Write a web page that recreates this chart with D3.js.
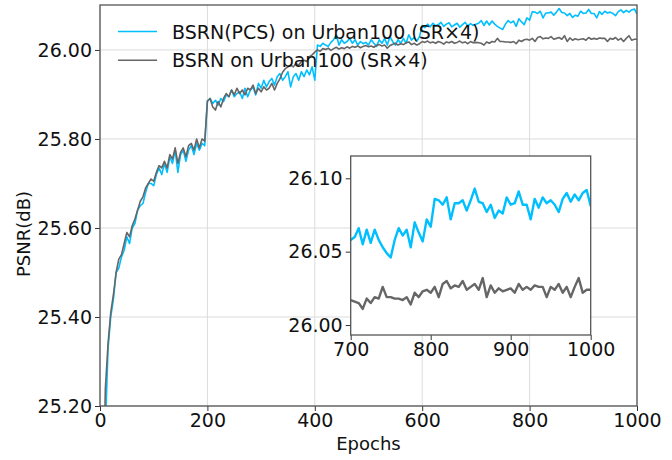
<!DOCTYPE html>
<html>
<head>
<meta charset="utf-8">
<script src="https://cdn.jsdelivr.net/npm/d3@7"></script>
<style>
  html, body { margin: 0; padding: 0; background: #fff; }
  svg { display: block; font-family: "DejaVu Sans", sans-serif; }
</style>
</head>
<body>
<svg id="chart" width="672" height="460"></svg>
<script>
// ---------- data ----------
const epochs = d3.range(5, 1001, 5);

const seriesNames = ["BSRN(PCS) on Urban100 (SR×4)", "BSRN on Urban100 (SR×4)"];
const seriesColors = ["#00bfff", "#666666"];

const psnrPCS = [
  24.90, 25.15, 25.33, 25.40, 25.44, 25.50, 25.51, 25.535, 25.55, 25.58,
  25.565, 25.60, 25.61, 25.64, 25.65, 25.655, 25.68, 25.70, 25.70, 25.695,
  25.72, 25.735, 25.72, 25.745, 25.725, 25.76, 25.745, 25.775, 25.725, 25.765,
  25.775, 25.75, 25.775, 25.785, 25.765, 25.79, 25.775, 25.79, 25.785, 25.885,
  25.891, 25.880, 25.887, 25.876, 25.891, 25.884, 25.899, 25.895, 25.910, 25.895,
  25.902, 25.906, 25.891, 25.914, 25.895, 25.910, 25.917, 25.899, 25.925, 25.914,
  25.932, 25.917, 25.929, 25.936, 25.921, 25.940, 25.947, 25.932, 25.940, 25.951,
  25.917, 25.940, 25.947, 25.932, 25.951, 25.940, 25.955, 25.944, 25.962, 25.932,
  26.011, 26.008, 26.015, 26.011, 26.008, 26.017, 26.023, 26.034, 26.011, 26.023,
  26.015, 26.019, 26.026, 26.015, 26.023, 26.011, 26.019, 26.014, 26.017, 26.011,
  26.023, 26.015, 26.008, 26.023, 26.015, 26.026, 26.011, 26.030, 26.019, 26.011,
  26.023, 26.015, 26.026, 26.015, 26.034, 26.022, 26.028, 26.020, 26.030, 26.055,
  26.050, 26.058, 26.052, 26.060, 26.054, 26.057, 26.062, 26.053, 26.058, 26.061,
  26.052, 26.056, 26.060, 26.051, 26.057, 26.062, 26.054, 26.059, 26.055, 26.058,
  26.060, 26.066, 26.055, 26.065, 26.056, 26.065, 26.058, 26.053, 26.049, 26.046,
  26.058, 26.066, 26.061, 26.065, 26.053, 26.070, 26.063, 26.057, 26.072, 26.067,
  26.086, 26.085, 26.082, 26.087, 26.072, 26.083, 26.083, 26.085, 26.078, 26.085,
  26.093, 26.084, 26.083, 26.077, 26.082, 26.073, 26.078, 26.076, 26.087, 26.082,
  26.083, 26.091, 26.082, 26.082, 26.072, 26.086, 26.080, 26.087, 26.083, 26.085,
  26.082, 26.077, 26.086, 26.090, 26.084, 26.089, 26.085, 26.090, 26.092, 26.081
];

const psnrBase = [
  24.95, 25.24, 25.34, 25.41, 25.45, 25.50, 25.53, 25.54, 25.565, 25.59,
  25.58, 25.605, 25.62, 25.64, 25.66, 25.67, 25.69, 25.70, 25.71, 25.705,
  25.725, 25.74, 25.735, 25.75, 25.735, 25.765, 25.755, 25.78, 25.745, 25.77,
  25.78, 25.76, 25.785, 25.79, 25.775, 25.80, 25.78, 25.80, 25.795, 25.885,
  25.891, 25.872, 25.865, 25.884, 25.872, 25.891, 25.902, 25.895, 25.910, 25.899,
  25.914, 25.902, 25.910, 25.899, 25.914, 25.910, 25.921, 25.902, 25.914, 25.906,
  25.917, 25.910, 25.914, 25.925, 25.910, 25.925, 25.935, 25.950, 25.958, 25.962,
  25.966, 25.962, 25.970, 25.966, 25.974, 25.977, 25.974, 25.985, 25.989, 25.995,
  26.000, 25.997, 26.003, 26.001, 26.004, 25.999, 26.003, 26.006, 26.002, 26.005,
  26.003, 26.007, 26.004, 26.008, 26.006, 26.009, 26.005, 26.008, 26.010, 26.007,
  26.009, 26.006, 26.010, 26.012, 26.009, 26.011, 26.004, 26.010, 26.013, 26.015,
  26.011, 26.014, 26.012, 26.016, 26.018, 26.012, 26.015, 26.011, 26.014, 26.019,
  26.017, 26.020, 26.016, 26.018, 26.015, 26.019, 26.017, 26.013, 26.018, 26.016,
  26.019, 26.015, 26.017, 26.020, 26.016, 26.018, 26.014, 26.019, 26.016, 26.017,
  26.016, 26.015, 26.011, 26.018, 26.015, 26.019, 26.018, 26.026, 26.019, 26.019,
  26.018, 26.018, 26.017, 26.019, 26.014, 26.022, 26.019, 26.023, 26.024, 26.022,
  26.026, 26.019, 26.028, 26.030, 26.025, 26.027, 26.026, 26.030, 26.024, 26.026,
  26.028, 26.024, 26.032, 26.019, 26.027, 26.022, 26.025, 26.023, 26.024, 26.025,
  26.022, 26.028, 26.024, 26.026, 26.024, 26.027, 26.026, 26.026, 26.019, 26.026,
  26.024, 26.028, 26.022, 26.026, 26.019, 26.026, 26.032, 26.022, 26.024, 26.024
];

const mainXTicks = [0, 200, 400, 600, 800, 1000];
const mainYTicks = [25.2, 25.4, 25.6, 25.8, 26.0];
const insetXTicks = [700, 800, 900, 1000];
const insetYTicks = [26.00, 26.05, 26.10];

// ---------- drawing ----------
const svg = d3.select("#chart");
const series = [psnrPCS, psnrBase].map((vals, i) => ({
  name: seriesNames[i], color: seriesColors[i],
  points: epochs.map((e, j) => ({ e, v: vals[j] }))
}));

const FONT = 19;
const spine = "#555";
const grid = "#dcdcdc";

// Main axes
const M = { left: 100, right: 637, top: 5, bottom: 406 };
const x = d3.scaleLinear().domain([0, 1000]).range([M.left, M.right]);
const y = d3.scaleLinear().domain([25.2, 26.101]).range([M.bottom, M.top]);

svg.append("defs").append("clipPath").attr("id", "clipMain")
  .append("rect").attr("x", M.left).attr("y", M.top)
  .attr("width", M.right - M.left).attr("height", M.bottom - M.top);

// grid
const g = svg.append("g");
g.selectAll(".gx").data(mainXTicks).join("line")
  .attr("x1", d => x(d)).attr("x2", d => x(d))
  .attr("y1", M.top).attr("y2", M.bottom)
  .attr("stroke", grid).attr("stroke-width", 1);
g.selectAll(".gy").data(mainYTicks).join("line")
  .attr("x1", M.left).attr("x2", M.right)
  .attr("y1", d => y(d)).attr("y2", d => y(d))
  .attr("stroke", grid).attr("stroke-width", 1);

// lines
const lineMain = d3.line().x(d => x(d.e)).y(d => y(d.v));
const lg = svg.append("g").attr("clip-path", "url(#clipMain)");
series.forEach(s => {
  lg.append("path").datum(s.points).attr("d", lineMain)
    .attr("fill", "none").attr("stroke", s.color).attr("stroke-width", 1.6)
    .attr("stroke-linejoin", "round");
});

// axes
const xAxis = d3.axisBottom(x).tickValues(mainXTicks).tickFormat(d3.format("d")).tickSize(5).tickPadding(3);
const yAxis = d3.axisLeft(y).tickValues(mainYTicks).tickFormat(d3.format(".2f")).tickSize(5).tickPadding(3);
const gx = svg.append("g").attr("transform", `translate(0,${M.bottom})`).call(xAxis);
const gy = svg.append("g").attr("transform", `translate(${M.left},0)`).call(yAxis);
[gx, gy].forEach(a => {
  a.select(".domain").remove();
  a.selectAll("line").attr("stroke", "#333");
  a.selectAll("text").attr("font-size", FONT).attr("fill", "#111")
    .attr("font-family", "DejaVu Sans, sans-serif");
});

// frame
svg.append("rect").attr("x", M.left).attr("y", M.top)
  .attr("width", M.right - M.left).attr("height", M.bottom - M.top)
  .attr("fill", "none").attr("stroke", spine).attr("stroke-width", 1.3);

// labels
svg.append("text").attr("x", (M.left + M.right) / 2).attr("y", 450)
  .attr("text-anchor", "middle").attr("font-size", 18).attr("fill", "#111").text("Epochs");
svg.append("text").attr("transform", "translate(30,234) rotate(-90)")
  .attr("text-anchor", "middle").attr("font-size", 18).attr("fill", "#111").text("PSNR(dB)");

// legend
const leg = svg.append("g");
series.forEach((s, i) => {
  const yy = 31.5 + i * 28.7;
  leg.append("line").attr("x1", 118).attr("x2", 157).attr("y1", yy).attr("y2", yy)
    .attr("stroke", s.color).attr("stroke-width", 1.6);
  leg.append("text").attr("x", 172).attr("y", yy + 7).attr("font-size", FONT)
    .attr("fill", "#111").text(s.name);
});

// ---------- inset ----------
const I = { left: 350.7, right: 590.7, top: 156, bottom: 335 };
const xi = d3.scaleLinear().domain([700, 1000]).range([I.left, I.right]);
const yi = d3.scaleLinear().domain([25.9932, 26.1152]).range([I.bottom, I.top]);

svg.append("rect").attr("x", I.left).attr("y", I.top)
  .attr("width", I.right - I.left).attr("height", I.bottom - I.top).attr("fill", "#fff");
svg.select("defs").append("clipPath").attr("id", "clipInset")
  .append("rect").attr("x", I.left).attr("y", I.top)
  .attr("width", I.right - I.left).attr("height", I.bottom - I.top);

const lineInset = d3.line().x(d => xi(d.e)).y(d => yi(d.v));
const ig = svg.append("g").attr("clip-path", "url(#clipInset)");
series.forEach(s => {
  ig.append("path").datum(s.points.filter(p => p.e >= 695)).attr("d", lineInset)
    .attr("fill", "none").attr("stroke", s.color).attr("stroke-width", 2.4)
    .attr("stroke-linejoin", "round");
});

const xiAxis = d3.axisBottom(xi).tickValues(insetXTicks).tickFormat(d3.format("d")).tickSize(5).tickPadding(3);
const yiAxis = d3.axisLeft(yi).tickValues(insetYTicks).tickFormat(d3.format(".2f")).tickSize(5).tickPadding(3);
const gxi = svg.append("g").attr("transform", `translate(0,${I.bottom})`).call(xiAxis);
const gyi = svg.append("g").attr("transform", `translate(${I.left},0)`).call(yiAxis);
[gxi, gyi].forEach(a => {
  a.select(".domain").remove();
  a.selectAll("line").attr("stroke", "#333");
  a.selectAll("text").attr("font-size", FONT).attr("fill", "#111")
    .attr("font-family", "DejaVu Sans, sans-serif");
});
svg.append("rect").attr("x", I.left).attr("y", I.top)
  .attr("width", I.right - I.left).attr("height", I.bottom - I.top)
  .attr("fill", "none").attr("stroke", spine).attr("stroke-width", 1.3);
</script>
</body>
</html>
